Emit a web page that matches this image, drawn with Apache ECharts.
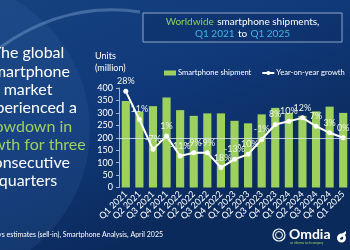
<!DOCTYPE html>
<html><head><meta charset="utf-8">
<script src="https://cdn.jsdelivr.net/npm/echarts@6/dist/echarts.min.js"></script>
<style>html,body{margin:0;padding:0;background:#0d3168;}#c{width:350px;height:250px;}</style>
</head><body><div id="c"></div>
<script>
const categories = ['Q1 2021','Q2 2021','Q3 2021','Q4 2021','Q1 2022','Q2 2022','Q3 2022','Q4 2022','Q1 2023','Q2 2023','Q3 2023','Q4 2023','Q1 2024','Q2 2024','Q3 2024','Q4 2024','Q1 2025'];
const shipments = [348,305,327,362,311,288,298,298,268,258,294,320,300,288,306,325,300];
const growth = [28,11,-7,1,-11,-9,-9,-18,-13,-10,-1,8,10,12,7,3,0];
const leftAxisMin = 0, leftAxisMax = 400, leftAxisStep = 50;
const rightAxisMin = -30, rightAxisMax = 30;

const FONT = 'Lato';
const chart = echarts.init(document.getElementById('c'), null, {renderer:'canvas'});
chart.setOption({
  backgroundColor: {
    type:'linear', x:0, y:0, x2:0.3, y2:1,
    colorStops:[{offset:0,color:'#16427f'},{offset:0.5,color:'#10397a'},{offset:1,color:'#0b2a5c'}]
  },
  textStyle:{fontFamily:FONT},
  animation:false,
  grid:{left:119, right:-10, top:88, bottom:62.5, containLabel:false},
  legend:{
    left:159, top:64, width:230, itemGap:10, itemWidth:12, itemHeight:5,
    textStyle:{color:'#ffffff', fontSize:7.6, fontFamily:FONT, padding:[0,0,0,-3]},
    data:[{name:'Smartphone shipment', icon:'rect'}, {name:'Year-on-year growth'}]
  },
  xAxis:{
    type:'category', data:categories,
    axisLine:{show:false}, axisTick:{show:false},
    axisLabel:{color:'#ffffff', fontSize:9, rotate:45, interval:0, margin:5, fontFamily:FONT}
  },
  yAxis:[
    {type:'value', min:leftAxisMin, max:leftAxisMax, interval:leftAxisStep,
     name:'Units\n(million)', nameLocation:'end', nameGap:14,
     nameTextStyle:{color:'#ffffff', fontSize:9, align:'left', padding:[0,0,0,-24], lineHeight:12},
     axisLine:{show:true, lineStyle:{color:'#9fb3cf', width:1}},
     axisTick:{show:true, length:3, lineStyle:{color:'#9fb3cf'}},
     splitLine:{show:false},
     axisLabel:{color:'#ffffff', fontSize:9, margin:6, fontFamily:FONT}},
    {type:'value', min:rightAxisMin, max:rightAxisMax, show:false, splitLine:{show:false}}
  ],
  series:[
    {name:'Smartphone shipment', type:'bar', data:shipments, barWidth:'60%',
     itemStyle:{color:'#9dd05c'}},
    {name:'Year-on-year growth', type:'line', yAxisIndex:1, data:growth,
     symbol:'circle', symbolSize:5,
     lineStyle:{color:'#ffffff', width:2}, itemStyle:{color:'#ffffff'},
     label:{show:true, position:'top', distance:3, color:'#eef3e6', fontSize:9, fontFamily:FONT, formatter:'{c}%'},
     markLine:{silent:true, symbol:'none', label:{show:false},
       lineStyle:{color:'rgba(220,230,245,0.8)', width:1, type:'solid'},
       data:[{yAxis:0}]}}
  ],
  graphic:[
    {type:'circle', z:-1, shape:{cx:-60, cy:130, r:150}, style:{fill:'rgba(60,110,170,0.18)'}},
    {type:'bezierCurve', z:-1, shape:{x1:-10, y1:55, cpx1:60, cpy1:0, x2:140, y2:12}, style:{fill:null, stroke:'rgba(150,185,225,0.35)', lineWidth:3}},
    {type:'rect', shape:{x:143, y:13, width:199, height:29}, style:{fill:'rgba(10,40,90,0.3)', stroke:'#8fa6c6', lineWidth:1}},
    {type:'text', x:242.5, y:16, style:{
      text:'{g|Worldwide} {w|smartphone shipments,}\n{b|Q1 2021} {w|to} {b|Q1 2025}',
      align:'center', verticalAlign:'top',
      rich:{
        g:{fill:'#8fce5a', fontSize:10, fontFamily:FONT, lineHeight:11},
        w:{fill:'#ffffff', fontSize:10, fontFamily:FONT, lineHeight:11},
        b:{fill:'#3fb6e6', fontSize:10, fontFamily:FONT, lineHeight:11}
      }}},
    {type:'text', x:28, y:44, style:{
      text:'{w|The global}\n{w|smartphone}\n{w|market}\n{w|experienced a}\n{g|slowdown in}\n{g|growth for three}\n{w|consecutive}\n{w|quarters}',
      align:'center', verticalAlign:'top',
      rich:{
        w:{fill:'#ffffff', fontSize:16, fontFamily:FONT, lineHeight:18.3},
        g:{fill:'#9dd05c', fontSize:16, fontFamily:FONT, lineHeight:18.3}
      }}},
    {type:'text', x:163, y:231, style:{
      text:'Source: Omdia and Canalys estimates (sell-in), Smartphone Analysis, April 2025',
      align:'right', verticalAlign:'top', fill:'#ffffff', fontSize:7, fontFamily:FONT}},
    {type:'circle', shape:{cx:279, cy:235, r:6}, style:{fill:null, stroke:'#ffffff', lineWidth:1.2}},
    {type:'circle', shape:{cx:279, cy:235, r:3.5}, style:{fill:null, stroke:'#ffffff', lineWidth:1}},
    {type:'text', x:289, y:227, style:{text:'Omdia', fill:'#ffffff', fontSize:14, fontWeight:'bold', fontFamily:FONT, verticalAlign:'top'}},
    {type:'text', x:290, y:242, style:{text:'an informa tech company', fill:'#9dd05c', fontSize:3, fontFamily:FONT, verticalAlign:'top'}},
    {type:'ring', shape:{cx:341.5, cy:238, r:4.5, r0:1.8}, style:{fill:'#ffffff'}},
    {type:'polygon', shape:{points:[[337,237],[346,231],[346,234],[339,239]]}, style:{fill:'#ffffff'}}
  ]
});
</script></body></html>
